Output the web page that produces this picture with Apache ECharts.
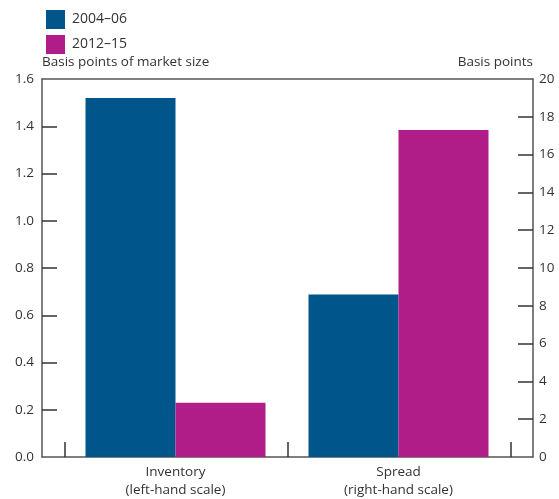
<!DOCTYPE html>
<html><head><meta charset="utf-8">
<script src="https://cdn.jsdelivr.net/npm/echarts@6/dist/echarts.min.js"></script>
<style>html,body{margin:0;padding:0;background:#fff}#c{width:559px;height:499px}</style>
</head><body><div id="c"></div>
<script>
const categories = ['Inventory\n(left-hand scale)', 'Spread\n(right-hand scale)'];
const seriesNames = ['2004–06', '2012–15'];
const inventory = [1.52, 0.23];   // left-hand scale, 2004–06 and 2012–15
const spread = [8.6, 17.3];       // right-hand scale, 2004–06 and 2012–15
const leftTicks = [0, 0.2, 0.4, 0.6, 0.8, 1.0, 1.2, 1.4, 1.6];
const rightTicks = [0, 2, 4, 6, 8, 10, 12, 14, 16, 18, 20];
const colors = ['#00558b', '#b01c88'];

const font = "'Open Sans', 'Noto Sans', sans-serif";
const txt = '#333';
const axisCol = '#555';
const chart = echarts.init(document.getElementById('c'));
const gTop = 79, gBottom = 42;
const catLabel = { color: txt, fontSize: 13.5, lineHeight: 18, margin: 6, fontFamily: font };
chart.setOption({
  animation: false,
  textStyle: { fontFamily: font },
  legend: {
    orient: 'vertical', left: 41, top: 5, itemWidth: 19, itemHeight: 19, itemGap: 6,
    icon: 'rect', data: seriesNames,
    textStyle: { fontSize: 14, color: txt, fontFamily: font, padding: [0, 0, 0, 2] }
  },
  grid: [
    { left: 42, right: 26, top: gTop, bottom: gBottom },
    { left: 64, right: 272, top: gTop, bottom: gBottom },
    { left: 287, right: 49, top: gTop, bottom: gBottom }
  ],
  xAxis: [
    { gridIndex: 0, type: 'value', min: -0.1, max: 2.1, position: 'bottom',
      axisLine: { show: true, onZero: false, lineStyle: { color: axisCol, width: 1.5 } },
      axisTick: { show: true, inside: true, length: 15, customValues: [0, 1, 2], lineStyle: { color: '#333', width: 1.5 } },
      axisLabel: { show: false }, splitLine: { show: false } },
    { gridIndex: 0, type: 'value', min: -0.1, max: 2.1, position: 'top',
      axisLine: { show: true, onZero: false, lineStyle: { color: axisCol, width: 1.5 } },
      axisTick: { show: false }, axisLabel: { show: false }, splitLine: { show: false } },
    { gridIndex: 1, type: 'category', data: [categories[0]],
      axisLine: { show: false }, axisTick: { show: false }, axisLabel: catLabel },
    { gridIndex: 2, type: 'category', data: [categories[1]],
      axisLine: { show: false }, axisTick: { show: false }, axisLabel: catLabel }
  ],
  yAxis: [
    { gridIndex: 0, type: 'value', min: 0, max: 1.6, interval: 0.2, position: 'left',
      name: 'Basis points of market size', nameLocation: 'end', nameGap: 10,
      nameTextStyle: { align: 'left', color: txt, fontSize: 13.5, fontFamily: font },
      axisLine: { show: true, onZero: false, lineStyle: { color: axisCol, width: 1.5 } },
      axisTick: { show: true, inside: true, length: 15, customValues: leftTicks.slice(1, -1), lineStyle: { color: '#333', width: 1.5 } },
      axisLabel: { color: txt, fontSize: 13.5, margin: 8, fontFamily: font,
        customValues: leftTicks, formatter: v => v.toFixed(1) },
      splitLine: { show: false } },
    { gridIndex: 0, type: 'value', min: 0, max: 20, interval: 2, position: 'right',
      name: 'Basis points', nameLocation: 'end', nameGap: 10,
      nameTextStyle: { align: 'right', color: txt, fontSize: 13.5, fontFamily: font },
      axisLine: { show: true, onZero: false, lineStyle: { color: axisCol, width: 1.5 } },
      axisTick: { show: true, inside: true, length: 15, customValues: rightTicks.slice(1, -1), lineStyle: { color: '#333', width: 1.5 } },
      axisLabel: { color: txt, fontSize: 13.5, margin: 6, fontFamily: font, customValues: rightTicks },
      splitLine: { show: false } },
    { gridIndex: 1, type: 'value', min: 0, max: 1.6, show: false },
    { gridIndex: 2, type: 'value', min: 0, max: 20, show: false }
  ],
  series: [
    { name: seriesNames[0], type: 'bar', xAxisIndex: 2, yAxisIndex: 2, barWidth: 90, barGap: '0%',
      itemStyle: { color: colors[0] }, data: [inventory[0]] },
    { name: seriesNames[1], type: 'bar', xAxisIndex: 2, yAxisIndex: 2, barWidth: 90, barGap: '0%',
      itemStyle: { color: colors[1] }, data: [inventory[1]] },
    { name: seriesNames[0], type: 'bar', xAxisIndex: 3, yAxisIndex: 3, barWidth: 90, barGap: '0%',
      itemStyle: { color: colors[0] }, data: [spread[0]] },
    { name: seriesNames[1], type: 'bar', xAxisIndex: 3, yAxisIndex: 3, barWidth: 90, barGap: '0%',
      itemStyle: { color: colors[1] }, data: [spread[1]] }
  ]
});
</script></body></html>
